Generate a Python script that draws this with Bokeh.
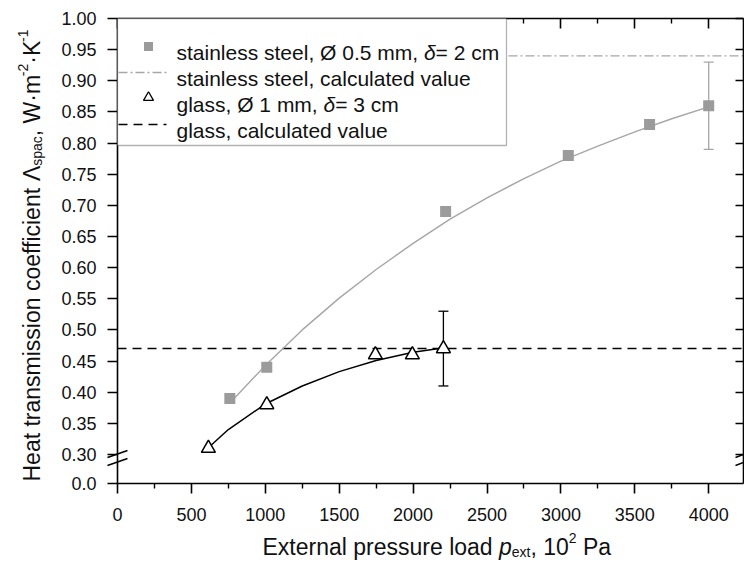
import math
from bokeh.plotting import figure
from bokeh.models import (LinearAxis, FixedTicker, Range1d, Label, BoxAnnotation,
                          Whisker, ColumnDataSource, TeeHead, NumeralTickFormatter,
                          CustomLabelingPolicy)
from bokeh.embed import file_html
from bokeh.resources import INLINE

# ---------------- data ----------------
ss_p = [760, 1010, 2220, 3050, 3600, 4000]
ss_lambda = [0.39, 0.44, 0.69, 0.78, 0.83, 0.86]
ss_err_p = [4000]
ss_err_lo = [0.79]
ss_err_hi = [0.93]
ss_fit_p = [770, 1000, 1250, 1500, 1750, 2000, 2250, 2500, 2750, 3000, 3250, 3500, 3750, 4000]
ss_fit_lambda = [0.385, 0.443, 0.500, 0.551, 0.597, 0.639, 0.678, 0.712, 0.743, 0.771, 0.795, 0.818, 0.839, 0.858]
ss_calc = 0.94

glass_p = [615, 1010, 1745, 1995, 2205]
glass_lambda = [0.31, 0.38, 0.46, 0.46, 0.47]
glass_err_p = [2205]
glass_err_lo = [0.41]
glass_err_hi = [0.53]
glass_fit_p = [620, 750, 1000, 1250, 1500, 1750, 2000, 2200]
glass_fit_lambda = [0.312, 0.340, 0.381, 0.410, 0.433, 0.451, 0.464, 0.471]
glass_calc = 0.47

x_ticks = [0, 500, 1000, 1500, 2000, 2500, 3000, 3500, 4000]
x_minor = [250, 750, 1250, 1750, 2250, 2750, 3250, 3750]
y_ticks = [0.30, 0.35, 0.40, 0.45, 0.50, 0.55, 0.60, 0.65, 0.70, 0.75, 0.80, 0.85, 0.90, 0.95, 1.00]
y_break_label = "0.0"

legend_labels = [
    [("stainless steel, Ø 0.5 mm, ", "normal"), ("δ", "italic"), ("= 2 cm", "normal")],
    [("stainless steel, calculated value", "normal")],
    [("glass, Ø 1 mm, ", "normal"), ("δ", "italic"), ("= 3 cm", "normal")],
    [("glass, calculated value", "normal")],
]
x_title = [("External pressure load ", "n"), ("p", "i"), ("ext", "s"), (",", "n"),
           (" 10", "n"), ("2", "u"), (" Pa", "n")]
y_title = [("Heat transmission coefficient ", "n"), ("Λ", "n"), ("spac", "s"), (",", "n"),
           (" W·m", "n"), ("-2", "u"), ("·K", "n"), ("-1", "u")]

# ---------------- layout (canvas pixels) ----------------
FONT = "Liberation Sans"
CW, CH = 744, 560
PX_X0 = 117            # pixel of x = 0
PX_PER_1000 = 147.8
PX_Y1 = 18             # pixel of y = 1.00
PX_YB = 483            # pixel of the "0.0" (break) level
PX_PER_UNIT_Y = 622.8
Y_MAX = 1.0
Y_BREAK = round(Y_MAX - (PX_YB - PX_Y1) / PX_PER_UNIT_Y, 4)


def xd(px):
    return (px - PX_X0) / PX_PER_1000 * 1000.0


def yd(py):
    return Y_MAX - (py - PX_Y1) / PX_PER_UNIT_Y


X_RIGHT = round(xd(743), 1)

p = figure(width=CW, height=CH, title=None,
           x_range=Range1d(xd(0), xd(CW)), y_range=Range1d(yd(CH), yd(0)),
           output_backend="svg", toolbar_location=None,
           min_border=0, min_border_left=0, min_border_right=0, min_border_top=0, min_border_bottom=0,
           background_fill_color="white", border_fill_color="white", outline_line_color=None)
p.xgrid.visible = False
p.ygrid.visible = False

TICK_FS = "18px"
no_labels = CustomLabelingPolicy(code="for (const i of indices) { indices.unset(i) }")

xa = p.xaxis[0]
xa.ticker = FixedTicker(ticks=x_ticks, minor_ticks=x_minor)
xa.fixed_location = Y_BREAK
xa.bounds = (0, X_RIGHT)
xa.major_tick_out = 10
xa.major_tick_in = 0
xa.minor_tick_out = 5
xa.minor_tick_in = 0
xa.major_label_standoff = 15

ya = p.yaxis[0]
ya.ticker = FixedTicker(ticks=[Y_BREAK] + y_ticks, minor_ticks=[])
ya.formatter = NumeralTickFormatter(format="0.00")
ya.major_label_overrides = {Y_BREAK: y_break_label}
ya.fixed_location = 0
ya.bounds = (Y_BREAK, Y_MAX)
ya.major_tick_out = 10
ya.major_tick_in = 0
ya.major_label_standoff = 11

top = LinearAxis(ticker=FixedTicker(ticks=x_ticks, minor_ticks=x_minor),
                 fixed_location=Y_MAX, bounds=(0, X_RIGHT),
                 major_tick_in=10, major_tick_out=0, minor_tick_in=5, minor_tick_out=0,
                 major_label_policy=no_labels)
right = LinearAxis(ticker=FixedTicker(ticks=y_ticks, minor_ticks=[]),
                   fixed_location=X_RIGHT, bounds=(Y_BREAK, Y_MAX),
                   major_tick_in=8, major_tick_out=0, minor_tick_in=0, minor_tick_out=0,
                   major_label_policy=no_labels)
p.add_layout(top, "above")
p.add_layout(right, "right")

for ax in [xa, ya, top, right]:
    ax.axis_line_width = 1.6
    ax.axis_line_color = "black"
    ax.major_tick_line_width = 1.6
    ax.minor_tick_line_width = 1.4
    ax.major_tick_line_color = "black"
    ax.minor_tick_line_color = "black"
    ax.major_label_text_font = FONT
    ax.major_label_text_color = "#111111"
    ax.major_label_text_font_size = TICK_FS

GRAY_M = "#9b9b9b"
GRAY_L = "#a6a6a6"

# calculated values
p.line([0, X_RIGHT], [ss_calc, ss_calc], line_color=GRAY_L, line_width=1.3, line_dash="9 3 2 3")
p.line([0, X_RIGHT], [glass_calc, glass_calc], line_color="black", line_width=1.5, line_dash="9 6")

# error bars
ss_err = ColumnDataSource(dict(x=ss_err_p, lo=ss_err_lo, hi=ss_err_hi))
gl_err = ColumnDataSource(dict(x=glass_err_p, lo=glass_err_lo, hi=glass_err_hi))
p.add_layout(Whisker(source=ss_err, base="x", lower="lo", upper="hi", dimension="height",
                     line_color=GRAY_L, line_width=1.3, level="underlay",
                     upper_head=TeeHead(size=10, line_color=GRAY_L, line_width=1.3),
                     lower_head=TeeHead(size=10, line_color=GRAY_L, line_width=1.3)))
p.add_layout(Whisker(source=gl_err, base="x", lower="lo", upper="hi", dimension="height",
                     line_color="black", line_width=1.3, level="underlay",
                     upper_head=TeeHead(size=10, line_color="black", line_width=1.3),
                     lower_head=TeeHead(size=10, line_color="black", line_width=1.3)))

# fitted curves
p.line(ss_fit_p, ss_fit_lambda, line_color=GRAY_L, line_width=1.4)
p.line(glass_fit_p, glass_fit_lambda, line_color="black", line_width=1.5)

# measured points
p.scatter(ss_p, ss_lambda, marker="square", size=11, fill_color=GRAY_M, line_color=None)
p.scatter(glass_p, glass_lambda, marker="triangle", size=14, fill_color="white",
          line_color="black", line_width=1.5)

# axis-break marks
bx0, by0, bx1, by1 = [], [], [], []
for (x0, x1) in [(107, 127), (735, 753)]:
    for yb in (457, 465):
        bx0.append(xd(x0)); by0.append(yd(yb))
        bx1.append(xd(x1)); by1.append(yd(yb - 7))
p.segment(bx0, by0, bx1, by1, line_color="black", line_width=1.5, level="overlay")

# legend (manual, to allow italic delta)
p.add_layout(BoxAnnotation(left=xd(117), right=xd(506), top=yd(18), bottom=yd(145),
                           fill_color="white", fill_alpha=1.0, line_color="black", line_width=1.3))
p.scatter([xd(148)], [yd(46)], marker="square", size=9, fill_color=GRAY_M, line_color=None, level="overlay")
p.line([xd(118), xd(166)], [yd(72), yd(72)], line_color=GRAY_L, line_width=1.3,
       line_dash="9 3 2 3", level="overlay")
p.scatter([xd(148)], [yd(97)], marker="triangle", size=10, fill_color="white", line_color="black",
          line_width=1.3, level="overlay")
p.line([xd(118), xd(166)], [yd(124), yd(124)], line_color="black", line_width=1.5,
       line_dash="9 6", level="overlay")

WID = {' ': 278, ',': 278, '.': 278, '-': 333, '=': 584, '·': 278, 'Ø': 778, 'Λ': 667, 'δ': 556,
       'E': 667, 'H': 722, 'K': 667, 'P': 667, 'W': 944,
       'a': 556, 'c': 500, 'd': 556, 'e': 556, 'f': 278, 'g': 556, 'i': 222, 'l': 222, 'm': 833,
       'n': 556, 'o': 556, 'p': 556, 'r': 333, 's': 500, 't': 278, 'u': 556, 'v': 500, 'x': 500}


def tw(s, size):
    return sum(WID.get(c, 556) for c in s) / 1000.0 * size


def lead_space(s, size):
    n = len(s) - len(s.lstrip(" "))
    return tw(s[:n], size)


LEG_FS = 21
for row, base in zip(legend_labels, [52, 78, 104, 130]):
    x = 176
    for txt, style in row:
        p.add_layout(Label(x=xd(x + lead_space(txt, LEG_FS)), y=yd(base), text=txt.strip(" "),
                           text_font=FONT, text_font_size=f"{LEG_FS}px", text_font_style=style,
                           text_color="#111111", text_align="left", text_baseline="alphabetic"))
        x += tw(txt, LEG_FS)

# axis titles (manual, with sub/superscripts)
TITLE_FS = 23
SMALL_FS = 14


def piece_style(kind):
    if kind == "s":
        return SMALL_FS, "normal", 5
    if kind == "u":
        return SMALL_FS, "normal", -9
    if kind == "i":
        return TITLE_FS, "italic", 0
    return TITLE_FS, "normal", 0


x = 262
for txt, kind in x_title:
    fs, st, dy = piece_style(kind)
    p.add_layout(Label(x=xd(x + lead_space(txt, fs)), y=yd(546 + dy), text=txt.strip(" "),
                       text_font=FONT, text_font_size=f"{fs}px", text_font_style=st,
                       text_color="#111111", text_align="left", text_baseline="alphabetic"))
    x += tw(txt, fs)

y = 481
for txt, kind in y_title:
    fs, st, dy = piece_style(kind)
    p.add_layout(Label(x=xd(31 + dy), y=yd(y - lead_space(txt, fs)), text=txt.strip(" "),
                       text_font=FONT, angle=math.pi / 2,
                       text_font_size=f"{fs}px", text_font_style=st, text_color="#111111",
                       text_align="left", text_baseline="alphabetic"))
    y -= tw(txt, fs)

open("out.html", "w").write(file_html(p, INLINE))
